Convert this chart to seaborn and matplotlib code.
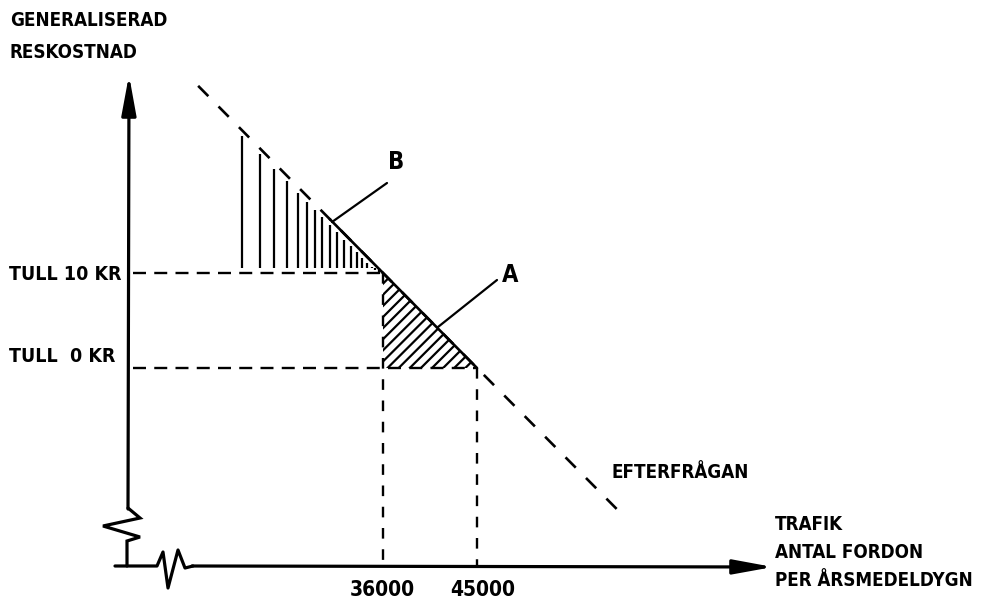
import numpy as np
import pandas as pd
import matplotlib
matplotlib.use("Agg")
import matplotlib.pyplot as plt
import seaborn as sns

# ---------------- data ----------------
quantities = [36000, 45000]          # traffic (vehicles per average day) at toll 10 kr / 0 kr
toll_levels = [10, 0]                # toll levels (kr)
toll_labels = ["TULL 10 KR", "TULL  0 KR"]
quantity_labels = ["36000", "45000"]
demand_q = [18300, 36000, 45000, 58700]      # demand curve (EFTERFRÅGAN)
demand_cost = [29.7, 10, 0, -15.2]
hatch_b_q = [22500, 24200, 25600, 26800, 27900, 28700, 29500, 30200, 30900,
             31600, 32300, 32900, 33500, 34000, 34500, 34900, 35200, 35600]

# ---------------- style ----------------
sns.set_theme(style="white")
plt.rcParams["font.family"] = ["DejaVu Sans"]
plt.rcParams["hatch.linewidth"] = 1.6

W, H = 987, 607
fig = plt.figure(figsize=(W / 100, H / 100), dpi=100)
ax = fig.add_axes([0, 0, 1, 1])

# calibrate data scale: 36000 -> px 383, 45000 -> px 477 ; 10 kr -> px 273, 0 kr -> px 368
S = (quantities[1] - quantities[0]) / (477 - 383)
X0 = quantities[0] - 383 * S
PY = (368 - 273) / (toll_levels[0] - toll_levels[1])
ax.set_xlim(X0, X0 + W * S)
ax.set_ylim(-(H - 368) / PY, 368 / PY)
ax.axis("off")


def px(xp, yp):
    return X0 + xp * S, (368 - yp) / PY


def pxs(points):
    xs, ys = zip(*[px(a, b) for a, b in points])
    return list(xs), list(ys)


def demand_at(q):
    return np.interp(q, demand_q, demand_cost)


K = "black"
axis_y = px(0, 566)[1]
ARROW = "-|>,head_length=1.2,head_width=0.22"

# ---------------- axes with breaks ----------------
xs, ys = pxs([(128, 508), (140, 518), (103, 526), (140, 537), (127, 541), (127, 566)])
ax.plot(xs, ys, color=K, lw=2.3, solid_joinstyle="miter")
ax.annotate("", xy=px(129, 75), xytext=px(128, 509),
            arrowprops=dict(arrowstyle=ARROW, lw=2.3, color=K, mutation_scale=20,
                            shrinkA=0, shrinkB=0))
xs, ys = pxs([(115, 566), (157, 566), (163, 552), (168, 588), (178, 550),
              (185, 568), (193, 566)])
ax.plot(xs, ys, color=K, lw=2.3)
ax.annotate("", xy=px(773, 567), xytext=px(192, 566),
            arrowprops=dict(arrowstyle=ARROW, lw=2.3, color=K, mutation_scale=20,
                            shrinkA=0, shrinkB=0))

# ---------------- demand curve ----------------
df = pd.DataFrame({"q": demand_q, "cost": demand_cost})
sns.lineplot(data=df, x="q", y="cost", ax=ax, color=K, lw=1.9,
             linestyle=(0, (5.5, 5.5)), estimator=None, sort=False)
solid_q = np.array([30900, quantities[1]])
ax.plot(solid_q, demand_at(solid_q), color=K, lw=1.9)

# ---------------- toll levels (dashed guides) ----------------
for q, t in zip(quantities, toll_levels):
    ax.plot([px(133, 0)[0], q], [t, t], color=K, lw=1.7, linestyle=(0, (5.5, 3.5)))
    ax.plot([q, q], [t, axis_y], color=K, lw=1.7, linestyle=(0, (4.5, 4.5)))

# ---------------- area A (hatched triangle) ----------------
ax.fill_between(quantities, toll_levels, toll_levels[1], facecolor="none",
                edgecolor=K, hatch="///", linewidth=0)

# ---------------- area B (vertical hatching) ----------------
tops = demand_at(hatch_b_q) - 0.6
ax.vlines(hatch_b_q, toll_levels[0] + 0.5, tops, color=K, lw=1.6)

# ---------------- pointers ----------------
xs, ys = pxs([(332, 222), (387, 183)])
ax.plot(xs, ys, color=K, lw=1.6)
xs, ys = pxs([(438, 327), (497, 280)])
ax.plot(xs, ys, color=K, lw=1.6)

# ---------------- texts ----------------
tkw = dict(color=K, fontweight="bold", fontstretch="condensed")


def ftext(xp, yp, s, size, ha="left", va="center"):
    fig.text(xp / W, 1 - yp / H, s, fontsize=size, ha=ha, va=va, **tkw)


ftext(10, 21, "GENERALISERAD", 13.5)
ftext(10, 53, "RESKOSTNAD", 13.5)
ftext(9, 274, toll_labels[0], 14)
ftext(9, 356, toll_labels[1], 14)
ftext(382, 590, quantity_labels[0], 15, ha="center")
ftext(483, 590, quantity_labels[1], 15, ha="center")
ftext(396, 162, "B", 17, ha="center")
ftext(510, 275, "A", 17, ha="center")
ftext(612, 472, "EFTERFRÅGAN", 13.5)
ftext(775, 525, "TRAFIK", 13.5)
ftext(775, 552, "ANTAL FORDON", 13.5)
ftext(775, 580, "PER ÅRSMEDELDYGN", 13.5)

fig.savefig("out.png", dpi=100, facecolor="white")
